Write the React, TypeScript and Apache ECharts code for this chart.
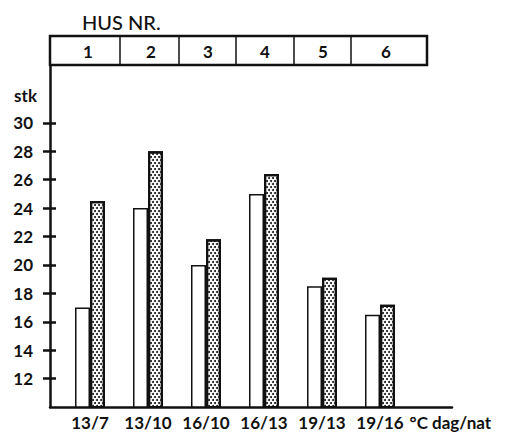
import React, { useEffect, useRef } from "react";
import * as echarts from "echarts";

const categories = ["13/7", "13/10", "16/10", "16/13", "19/13", "19/16"];
const houses = ["1", "2", "3", "4", "5", "6"];
const whiteValues = [17, 24, 20, 25, 18.5, 16.5];
const stippledValues = [24.5, 28, 21.8, 26.4, 19.1, 17.2];
const yTicks = [12, 14, 16, 18, 20, 22, 24, 26, 28, 30];
const xPositions = [1, 2, 3, 4, 5, 6];

const FONT = "Lato";
const INK = "#111";
const WEIGHT = "bold";

export default function App() {
  const ref = useRef<HTMLDivElement>(null);
  useEffect(() => {
    if (!ref.current) return;
    const chart = echarts.init(ref.current, null, { renderer: "svg" });
    const boxDividers = [120, 179, 236, 294, 351];
    const houseCenters = [88, 151, 208, 265, 323, 386];
    const graphics: any[] = [
      {
        type: "rect",
        shape: { x: 50, y: 36, width: 377, height: 29 },
        style: { fill: "none", stroke: INK, lineWidth: 2.5 },
      },
      ...boxDividers.map((x) => ({
        type: "line",
        shape: { x1: x, y1: 36, x2: x, y2: 65 },
        style: { stroke: INK, lineWidth: 1.5 },
      })),
      ...houses.map((h, i) => ({
        type: "text",
        x: houseCenters[i],
        y: 51,
        style: {
          text: h,
          font: `${WEIGHT} 17px ${FONT}`,
          fill: INK,
          align: "center",
          verticalAlign: "middle",
        },
      })),
      {
        type: "text",
        x: 82,
        y: 22,
        style: {
          text: "HUS NR.",
          font: `500 20px ${FONT}`,
          fill: INK,
          align: "left",
          verticalAlign: "middle",
        },
      },
    ];
    chart.setOption({
      animation: false,
      backgroundColor: "#fff",
      grid: { left: 50, right: 58, top: 66, bottom: 25 },
      xAxis: {
        type: "value",
        min: 1 - 40 / 58,
        max: 1 + 362 / 58,
        splitLine: { show: false },
        axisLine: { show: true, onZero: false, lineStyle: { color: INK, width: 2.5 } },
        axisTick: { show: false },
        axisLabel: {
          customValues: xPositions,
          formatter: (v: number) => categories[Math.round(v) - 1] ?? "",
          color: INK,
          fontFamily: FONT,
          fontWeight: WEIGHT,
          fontSize: 17,
          lineHeight: 15,
          margin: 8,
        },
        name: "°C dag/nat",
        nameLocation: "end",
        nameGap: -47,
        nameTextStyle: {
          color: INK,
          fontFamily: FONT,
          fontWeight: WEIGHT,
          fontSize: 17,
          lineHeight: 15,
          align: "left",
          verticalAlign: "top",
          padding: [8, 0, 0, 0],
        },
      },
      yAxis: [
        {
          type: "value",
          position: "left",
          min: 10,
          max: 34,
          splitLine: { show: false },
          axisLine: { show: true, onZero: false, lineStyle: { color: INK, width: 2.5 } },
          axisTick: { show: true, customValues: yTicks, length: 7, lineStyle: { color: INK, width: 2.5 } },
          axisLabel: {
            customValues: yTicks,
            color: INK,
            fontFamily: FONT,
            fontWeight: WEIGHT,
            fontSize: 17,
            margin: 17,
          },
          name: "stk",
          nameLocation: "end",
          nameGap: -29,
          nameTextStyle: {
            color: INK,
            fontFamily: FONT,
            fontWeight: WEIGHT,
            fontSize: 17,
            align: "right",
            verticalAlign: "middle",
            padding: [0, 13, 0, 0],
          },
        },
        {
          type: "value",
          position: "left",
          offset: 0,
          min: 10,
          max: 34,
          splitLine: { show: false },
          axisLine: { show: false },
          axisTick: { show: true, inside: true, customValues: yTicks, length: 6, lineStyle: { color: INK, width: 2.5 } },
          axisLabel: { show: false },
        },
      ],
      series: [
        {
          type: "bar",
          data: xPositions.map((x, i) => [x, whiteValues[i]]),
          barWidth: 15,
          barGap: "0%",
          itemStyle: { color: "#fff", borderColor: INK, borderWidth: 1.5 },
        },
        {
          type: "bar",
          data: xPositions.map((x, i) => [x, stippledValues[i]]),
          barWidth: 15,
          barGap: "0%",
          itemStyle: {
            color: "#fff",
            borderColor: INK,
            borderWidth: 2.2,
            decal: {
              symbol: "circle",
              symbolSize: 1,
              color: INK,
              dashArrayX: [[1.5, 1.2], [0, 1.35, 1.5, 1.2, 1.5, 0]],
              dashArrayY: [1.5, 0.3],
              rotation: 0,
            },
          },
        },
      ],
      graphic: graphics,
    });
    return () => chart.dispose();
  }, []);
  return (
    <div
      ref={ref}
      style={{ position: "absolute", left: 0, top: 0, width: 510, height: 432 }}
    />
  );
}
